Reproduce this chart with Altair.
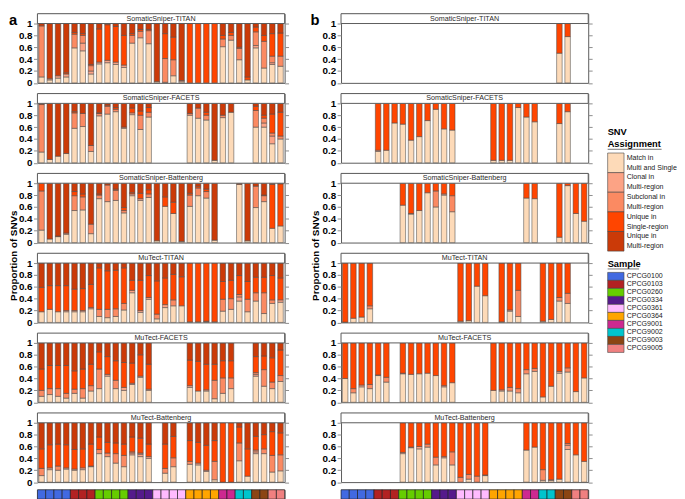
import altair as alt
import pandas as pd

# ---------------- categories / colours ----------------
CATS = ["Match in Multi and Single", "Clonal in Multi-region", "Subclonal in Multi-region",
        "Unique in Single-region", "Unique in Multi-region"]
CAT_LABELS = ["Match in\nMulti and Single", "Clonal in\nMulti-region", "Subclonal in\nMulti-region",
              "Unique in\nSingle-region", "Unique in\nMulti-region"]
CAT_COLORS = ["#FDDAB8", "#FCA385", "#FB8A62", "#FF4500", "#CB3A08"]

SAMPLES = ["CPCG0100", "CPCG0103", "CPCG0260", "CPCG0334", "CPCG0361",
           "CPCG0364", "CPCG9001", "CPCG9002", "CPCG9003", "CPCG9005"]
SAMPLE_COLORS = ["#4169E1", "#B22222", "#66CD00", "#551A8B", "#FFBBFF",
                 "#FFA500", "#CD2990", "#00C5CD", "#8B4513", "#F08080"]
POSITION_SAMPLES = (["CPCG0100"] * 4 + ["CPCG0103"] * 3 + ["CPCG0260"] * 4 + ["CPCG0334"] * 3 +
                    ["CPCG0361"] * 4 + ["CPCG0364"] * 4 + ["CPCG9001"] * 2 + ["CPCG9002"] * 2 +
                    ["CPCG9003"] * 2 + ["CPCG9005"] * 2)

METHODS = ["SomaticSniper-TITAN", "SomaticSniper-FACETS", "SomaticSniper-Battenberg",
           "MuTect-TITAN", "MuTect-FACETS", "MuTect-Battenberg"]

# Panel a: per bar the cumulative tops (match, clonal, subclonal, unique single); rest = unique multi
A_SS_TITAN = [
    (0.10, 0.10, 0.96, 0.96), (0.05, 0.07, 0.07, 0.07), (0.08, 0.12, 0.12, 0.12), (0.10, 0.15, 0.15, 0.17),
    (0.59, 0.59, 0.82, 0.85), (0.54, 0.67, 0.80, 0.83), (0.15, 0.20, 0.29, 0.31), (0.32, 0.35, 0.35, 0.91),
    (0.34, 0.38, 0.38, 0.98), (0.31, 0.35, 0.35, 0.95), (0.26, 0.30, 0.30, 0.80), (0.67, 0.67, 0.80, 0.83),
    (0.76, 0.76, 0.87, 0.90), (0.66, 0.66, 0.88, 0.90), (0.02, 0.02, 0.02, 0.02), (0.01, 0.01, 0.41, 0.83),
    (0.12, 0.12, 0.39, 0.77), (0.02, 0.04, 0.04, 0.04), (0.00, 0.00, 0.00, 1.00), (0.00, 0.00, 0.00, 1.00),
    (0.00, 0.00, 0.00, 1.00), (0.00, 0.00, 0.00, 1.00), (0.61, 0.61, 0.74, 0.80), (0.72, 0.72, 0.80, 0.85),
    (0.39, 0.39, 0.58, 0.60), (0.05, 0.05, 0.05, 0.10), (0.59, 0.63, 0.86, 0.94), (0.25, 0.25, 0.70, 0.80),
    (0.31, 0.34, 0.45, 0.83), (0.28, 0.28, 0.45, 0.84)]
A_SS_FACETS = [
    (0.18, 0.18, 0.98, 0.98), (0.055, 0.055, 0.055, 0.055), (0.11, 0.11, 0.11, 0.11), (0.155, 0.155, 0.155, 0.155),
    (0.58, 0.58, 0.84, 0.86), (0.61, 0.61, 0.83, 0.83), (0.19, 0.19, 0.29, 0.29), (0.79, 0.79, 0.83, 0.84),
    (0.82, 0.82, 0.95, 0.97), (0.86, 0.86, 0.90, 0.93), (0.58, 0.58, 0.60, 0.60), (0.81, 0.84, 0.84, 0.92),
    (0.56, 0.56, 0.80, 0.87), (0.77, 0.77, 0.85, 0.93), None, None,
    None, None, (0.80, 0.80, 0.83, 0.83), (0.75, 0.75, 0.92, 0.92),
    (0.72, 0.72, 0.80, 0.85), (0.04, 0.04, 0.04, 0.04), (0.76, 0.76, 0.80, 0.80), (0.85, 0.85, 0.85, 0.85),
    None, None, (0.60, 0.60, 0.88, 0.95), (0.60, 0.67, 0.75, 0.80),
    (0.32, 0.45, 0.50, 0.82), (0.40, 0.40, 0.45, 0.85)]
A_SS_BATTENBERG = [
    (0.21, 0.21, 0.87, 1.00), (0.06, 0.06, 0.06, 0.06), (0.10, 0.10, 0.10, 0.11), (0.14, 0.14, 0.16, 0.16),
    (0.54, 0.54, 0.79, 0.86), (0.55, 0.55, 0.77, 0.82), (0.15, 0.15, 0.31, 0.31), (0.74, 0.74, 0.80, 0.82),
    (0.69, 0.69, 0.97, 0.97), (0.71, 0.71, 0.88, 0.90), (0.50, 0.50, 0.54, 0.59), (0.79, 0.82, 0.82, 0.84),
    (0.71, 0.74, 0.74, 0.83), (0.76, 0.76, 0.82, 0.89), (0.03, 0.03, 0.03, 0.03), (0.61, 0.61, 0.61, 0.77),
    (0.49, 0.49, 0.49, 0.68), (0.02, 0.02, 0.02, 0.02), (0.61, 0.61, 0.80, 0.83), (0.79, 0.79, 0.92, 0.95),
    (0.75, 0.75, 0.86, 0.90), (0.04, 0.04, 0.04, 0.04), None, None,
    (0.98, 0.98, 0.98, 0.98), (0.03, 0.03, 0.03, 0.03), (0.59, 0.59, 0.95, 0.95), (0.69, 0.69, 0.79, 0.80),
    (0.24, 0.24, 0.24, 0.98), (0.28, 0.28, 0.28, 0.99)]
A_MU_TITAN = [
    (0.18, 0.18, 0.18, 0.59), (0.22, 0.22, 0.22, 0.62), (0.18, 0.18, 0.18, 0.62), (0.18, 0.20, 0.20, 0.62),
    (0.18, 0.20, 0.20, 0.56), (0.18, 0.20, 0.20, 0.57), (0.23, 0.25, 0.25, 0.64), (0.10, 0.10, 0.22, 0.92),
    (0.08, 0.08, 0.22, 0.87), (0.10, 0.10, 0.23, 0.88), (0.21, 0.21, 0.32, 0.92), (0.50, 0.54, 0.54, 0.71),
    (0.17, 0.20, 0.20, 0.71), (0.39, 0.42, 0.42, 0.79), (0.06, 0.06, 0.14, 0.70), (0.25, 0.30, 0.30, 0.75),
    (0.28, 0.28, 0.38, 0.81), (0.28, 0.28, 0.28, 0.77), (0.01, 0.01, 0.01, 1.00), (0.01, 0.01, 0.01, 1.00),
    (0.01, 0.01, 0.02, 1.00), (0.01, 0.01, 0.01, 1.00), (0.19, 0.19, 0.39, 0.69), (0.22, 0.22, 0.40, 0.71),
    (0.36, 0.43, 0.47, 0.79), (0.18, 0.18, 0.39, 0.69), (0.36, 0.36, 0.50, 0.76), (0.15, 0.15, 0.50, 0.76),
    (0.32, 0.32, 0.38, 0.79), (0.34, 0.38, 0.38, 0.75)]
A_MU_FACETS = [
    (0.10, 0.10, 0.20, 0.56), (0.13, 0.13, 0.23, 0.62), (0.10, 0.10, 0.23, 0.62), (0.07, 0.07, 0.15, 0.62),
    (0.15, 0.15, 0.22, 0.53), (0.07, 0.07, 0.23, 0.56), (0.19, 0.19, 0.28, 0.64), (0.23, 0.23, 0.56, 0.85),
    (0.44, 0.47, 0.47, 0.77), (0.23, 0.23, 0.37, 0.70), (0.20, 0.25, 0.25, 0.67), (0.30, 0.32, 0.32, 0.66),
    (0.42, 0.44, 0.44, 0.80), (0.20, 0.22, 0.22, 0.64), None, None,
    None, None, (0.25, 0.28, 0.28, 0.71), (0.19, 0.19, 0.19, 0.69),
    (0.19, 0.21, 0.21, 0.64), (0.06, 0.06, 0.37, 0.64), (0.15, 0.15, 0.41, 0.70), (0.23, 0.23, 0.41, 0.70),
    None, None, (0.44, 0.47, 0.50, 0.77), (0.27, 0.27, 0.55, 0.78),
    (0.23, 0.23, 0.34, 0.75), (0.35, 0.35, 0.45, 0.88)]
A_MU_BATTENBERG = [
    (0.11, 0.11, 0.23, 0.56), (0.21, 0.24, 0.24, 0.63), (0.20, 0.20, 0.27, 0.64), (0.22, 0.24, 0.24, 0.63),
    (0.20, 0.22, 0.22, 0.55), (0.21, 0.24, 0.24, 0.56), (0.26, 0.27, 0.27, 0.64), (0.48, 0.48, 0.55, 0.76),
    (0.43, 0.43, 0.49, 0.67), (0.32, 0.32, 0.48, 0.66), (0.26, 0.26, 0.45, 0.64), (0.46, 0.49, 0.51, 0.76),
    (0.43, 0.47, 0.49, 0.74), (0.40, 0.43, 0.43, 0.64), None, (0.15, 0.15, 0.23, 0.64),
    (0.26, 0.26, 0.41, 0.77), None, (0.30, 0.30, 0.35, 0.70), (0.29, 0.32, 0.32, 0.67),
    (0.18, 0.20, 0.20, 0.62), (0.04, 0.04, 0.35, 0.70), (0.00, 0.00, 0.00, 1.00), (0.00, 0.00, 0.00, 1.00),
    (0.36, 0.36, 0.66, 0.93), (0.10, 0.10, 0.10, 0.56), (0.48, 0.51, 0.54, 0.77), (0.48, 0.48, 0.56, 0.80),
    (0.17, 0.17, 0.45, 0.85), (0.19, 0.19, 0.46, 0.83)]

# Panel b (single region): bar position -> (match, clonal, subclonal) tops; rest is unique in single-region
B_SS_TITAN = {27: (0.50, 0.50, 0.50), 28: (0.78, 0.78, 0.78)}
B_SS_FACETS = {5: (0.19, 0.21, 0.21), 6: (0.21, 0.21, 0.21), 7: (0.67, 0.67, 0.67), 8: (0.65, 0.65, 0.65),
               9: (0.38, 0.38, 0.38), 10: (0.44, 0.44, 0.44), 11: (0.71, 0.71, 0.71), 12: (0.90, 0.90, 0.90),
               13: (0.57, 0.57, 0.57), 14: (0.55, 0.55, 0.55), 19: (0.04, 0.04, 0.04), 20: (0.04, 0.04, 0.04),
               21: (0.04, 0.04, 0.04), 22: (0.93, 0.93, 0.93), 23: (0.77, 0.77, 0.77), 24: (0.69, 0.69, 0.69),
               27: (0.66, 0.66, 0.66), 28: (0.86, 0.86, 0.86)}
B_SS_BATTENBERG = {8: (0.63, 0.63, 0.63), 9: (0.48, 0.49, 0.49), 10: (0.54, 0.54, 0.54), 11: (0.84, 0.84, 0.84),
                   12: (0.60, 0.60, 0.87), 13: (0.80, 0.82, 0.82), 14: (0.52, 0.52, 0.79), 23: (0.75, 0.75, 0.75),
                   24: (0.74, 0.74, 0.74), 27: (0.09, 0.09, 0.09), 28: (0.96, 0.96, 0.96), 29: (0.49, 0.49, 0.49),
                   30: (0.36, 0.36, 0.36)}
B_MU_TITAN = {1: (0.005, 0.005, 0.005), 2: (0.07, 0.07, 0.07), 3: (0.09, 0.09, 0.09), 4: (0.23, 0.23, 0.28),
              15: (0.02, 0.02, 0.02), 16: (0.03, 0.03, 0.03), 17: (0.61, 0.61, 0.61), 18: (0.45, 0.45, 0.45),
              20: (0.01, 0.01, 0.01), 21: (0.19, 0.21, 0.21), 22: (0.10, 0.10, 0.54), 25: (0.02, 0.02, 0.02),
              26: (0.05, 0.05, 0.05), 27: (0.36, 0.36, 0.42), 28: (0.32, 0.32, 0.49)}
B_MU_FACETS = {1: (0.40, 0.40, 0.40), 2: (0.16, 0.16, 0.23), 3: (0.26, 0.29, 0.29), 4: (0.23, 0.23, 0.30),
               5: (0.45, 0.46, 0.46), 6: (0.34, 0.34, 0.42), 8: (0.48, 0.49, 0.49), 9: (0.47, 0.47, 0.47),
               10: (0.48, 0.48, 0.48), 11: (0.49, 0.49, 0.49), 12: (0.45, 0.45, 0.45), 13: (0.26, 0.28, 0.28),
               14: (0.33, 0.33, 0.33), 19: (0.20, 0.20, 0.20), 20: (0.19, 0.21, 0.21), 21: (0.19, 0.19, 0.25),
               22: (0.16, 0.16, 0.23), 23: (0.48, 0.48, 0.55), 24: (0.52, 0.52, 0.57), 25: (0.09, 0.09, 0.09),
               26: (0.27, 0.27, 0.27), 27: (0.49, 0.52, 0.52), 28: (0.51, 0.51, 0.58), 29: (0.18, 0.18, 0.18),
               30: (0.41, 0.41, 0.41)}
B_MU_BATTENBERG = {8: (0.48, 0.50, 0.50), 9: (0.58, 0.59, 0.59), 10: (0.56, 0.60, 0.60), 11: (0.59, 0.59, 0.64),
                   12: (0.29, 0.29, 0.42), 13: (0.41, 0.43, 0.43), 14: (0.29, 0.29, 0.51), 15: (0.00, 0.00, 0.08),
                   16: (0.05, 0.05, 0.13), 17: (0.00, 0.00, 0.10), 18: (0.11, 0.12, 0.12), 23: (0.54, 0.54, 0.54),
                   24: (0.59, 0.59, 0.59), 25: (0.03, 0.03, 0.21), 26: (0.03, 0.04, 0.04), 27: (0.05, 0.05, 0.05),
                   28: (0.55, 0.62, 0.65), 29: (0.46, 0.46, 0.46), 30: (0.35, 0.35, 0.35)}

PANEL_A = [A_SS_TITAN, A_SS_FACETS, A_SS_BATTENBERG, A_MU_TITAN, A_MU_FACETS, A_MU_BATTENBERG]
PANEL_B = [B_SS_TITAN, B_SS_FACETS, B_SS_BATTENBERG, B_MU_TITAN, B_MU_FACETS, B_MU_BATTENBERG]

# ---------------- layout constants ----------------
W = 252
PLOT_H = 60.5
STRIP_H = 10
ROW_H = PLOT_H + STRIP_H
D = 1 + STRIP_H / PLOT_H
POS = list(range(1, 31))
YVALS = [0, 0.2, 0.4, 0.6, 0.8, 1.0]
FONT = "Liberation Sans"


def seg_rows(pos, tops):
    bounds = [0.0] + list(tops) + [1.0]
    rows = []
    for i in range(5):
        lo, hi = bounds[i], bounds[i + 1]
        if hi - lo > 0.0015:
            rows.append({"pos": pos, "cat": CATS[i], "y0": lo, "y1": hi, "hex": CAT_COLORS[i]})
    return rows


def panel_rows_a(lst):
    out = []
    for p, t in zip(POS, lst):
        if t is not None:
            out += seg_rows(p, t)
    return out


def panel_rows_b(dct):
    out = []
    for p, t in dct.items():
        out += seg_rows(p, tuple(t) + (1.0,))
    return out


def row_chart(rows, idx, letter, title_x, letter_x):
    yscale = alt.Scale(domain=[0, D], nice=False, zero=True)
    ax = dict(values=YVALS,
              labelExpr="datum.value == 0 ? '0' : datum.value == 1 ? '1' : format(datum.value, '.1f')",
              labelFontSize=10, labelFontWeight="bold", labelColor="black", labelFont=FONT,
              tickSize=4, tickColor="#8c8c8c", tickWidth=1, labelPadding=1.5, domain=False, grid=False)
    if idx == 3:
        ax.update(title="Proportion of SNVs", titleX=title_x, titleY=2, titleAngle=270,
                  titleAlign="center", titleBaseline="middle", titleFontSize=10,
                  titleFontWeight="bold", titleFont=FONT, titleColor="black")
    else:
        ax.update(title=None)
    df = pd.DataFrame(rows)
    bars = alt.Chart(df).mark_bar(stroke="#4a4a4a", strokeWidth=0.55).encode(
        x=alt.X("pos:O", scale=alt.Scale(domain=POS, paddingInner=0.33, paddingOuter=0.165), axis=None),
        y=alt.Y("y0:Q", scale=yscale, axis=alt.Axis(**ax)),
        y2="y1:Q",
        fill=alt.Fill("hex:N", scale=None),
    )
    sdf = pd.DataFrame({"lo": [1.0], "hi": [D], "mid": [(1 + D) / 2], "label": [METHODS[idx]]})
    strip = alt.Chart(sdf).mark_rect(fill="white", stroke="#5a5a5a", strokeWidth=1).encode(
        x=alt.value(0), x2=alt.value(W),
        y=alt.Y("lo:Q", scale=yscale,
                axis=alt.Axis(orient="right", values=YVALS, labels=False, tickSize=4, tickColor="#8c8c8c",
                              tickWidth=1, domain=False, grid=False, title=None)),
        y2="hi:Q",
    )
    text = alt.Chart(sdf).mark_text(fontSize=7.3, color="#2b2b2b", font=FONT).encode(
        x=alt.value(W / 2), y=alt.Y("mid:Q", scale=yscale, axis=None), text="label:N")
    layers = [bars, strip, text]
    if idx == 0:
        lt = alt.Chart(sdf).mark_text(text=letter, fontSize=15, fontWeight="bold", font=FONT,
                                      align="left", baseline="top", color="black").encode(
            x=alt.value(letter_x), y=alt.value(0))
        layers.append(lt)
    return alt.layer(*layers).resolve_axis(y="independent").properties(width=W, height=ROW_H)


def sample_strip():
    sdf = pd.DataFrame({"pos": POS, "sample": POSITION_SAMPLES,
                        "hex": [SAMPLE_COLORS[SAMPLES.index(s)] for s in POSITION_SAMPLES]})
    return alt.Chart(sdf).mark_rect(stroke="#222222", strokeWidth=0.7).encode(
        x=alt.X("pos:O", scale=alt.Scale(domain=POS, paddingInner=0, paddingOuter=0), axis=None),
        fill=alt.Fill("hex:N", scale=None),
    ).properties(width=W, height=9.5)


rows_a = [row_chart(panel_rows_a(PANEL_A[i]), i, "a", -24, -29) for i in range(6)]
rows_b = [row_chart(panel_rows_b(PANEL_B[i]), i, "b", -25.5, -31) for i in range(6)]

col_a = alt.vconcat(alt.vconcat(*rows_a, spacing=10.4, bounds="flush"), sample_strip(), spacing=1.3)
col_b = alt.vconcat(alt.vconcat(*rows_b, spacing=10.4, bounds="flush"), sample_strip(), spacing=1.3)

# ---------------- legend column ----------------
snv_df = pd.DataFrame({"cat": CATS, "label": CAT_LABELS, "hex": CAT_COLORS})
smp_df = pd.DataFrame({"sample": SAMPLES, "hex": SAMPLE_COLORS})
one = pd.DataFrame({"k": [0]})
snv_scale = alt.Scale(domain=CATS, range=[142, 242], paddingInner=0, paddingOuter=0)
smp_scale = alt.Scale(domain=SAMPLES, range=[263.7, 345.3], paddingInner=0, paddingOuter=0)

leg_snv_box = alt.Chart(snv_df).mark_rect(stroke="#444444", strokeWidth=0.6).encode(
    y=alt.Y("cat:N", scale=snv_scale, axis=None), x=alt.value(0), x2=alt.value(16.7),
    fill=alt.Fill("hex:N", scale=None))
leg_snv_txt = alt.Chart(snv_df).mark_text(align="left", baseline="middle", lineBreak="\n", lineHeight=10,
                                          dy=-5, fontSize=7.2, font=FONT, color="#222222").encode(
    y=alt.Y("cat:N", scale=snv_scale, axis=None, bandPosition=0.5), x=alt.value(19.4), text="label:N")
leg_smp_box = alt.Chart(smp_df).mark_rect(stroke="#444444", strokeWidth=0.6).encode(
    y=alt.Y("sample:N", scale=smp_scale, axis=None), x=alt.value(0), x2=alt.value(16.7),
    fill=alt.Fill("hex:N", scale=None))
leg_smp_txt = alt.Chart(smp_df).mark_text(align="left", baseline="middle", fontSize=7.2, font=FONT,
                                          color="#222222").encode(
    y=alt.Y("sample:N", scale=smp_scale, axis=None, bandPosition=0.5), x=alt.value(19.4), text="sample:N")
t_snv = alt.Chart(one).mark_text(text="SNV", align="left", baseline="middle", fontSize=9.5,
                                 fontWeight="bold", font=FONT, color="black").encode(
    x=alt.value(0), y=alt.value(121))
t_asg = alt.Chart(one).mark_text(text="Assignment", align="left", baseline="middle", fontSize=9.5,
                                 fontWeight="bold", font=FONT, color="black").encode(
    x=alt.value(0), y=alt.value(132.5))
u_asg = alt.Chart(one).mark_rule(color="#555555", strokeWidth=0.8).encode(
    x=alt.value(0), x2=alt.value(55), y=alt.value(138.2))
t_smp = alt.Chart(one).mark_text(text="Sample", align="left", baseline="middle", fontSize=9.5,
                                 fontWeight="bold", font=FONT, color="black").encode(
    x=alt.value(0), y=alt.value(254.8))
u_smp = alt.Chart(one).mark_rule(color="#555555", strokeWidth=0.8).encode(
    x=alt.value(0), x2=alt.value(32), y=alt.value(260.2))

legend = alt.layer(leg_snv_box, leg_snv_txt, leg_smp_box, leg_smp_txt, t_snv, t_asg, u_asg, t_smp, u_smp
                   ).resolve_scale(y="independent").properties(
    width=17, height=350, view=alt.ViewBackground(strokeOpacity=0, stroke="transparent"))

chart = alt.hconcat(alt.hconcat(col_a, col_b, spacing=20.5), legend,
                    spacing=13.3).properties(padding=0).configure(
    font=FONT).configure_view(stroke="#5a5a5a", strokeWidth=1)

chart.save("out.html", embed_options={"renderer": "svg", "actions": False})
